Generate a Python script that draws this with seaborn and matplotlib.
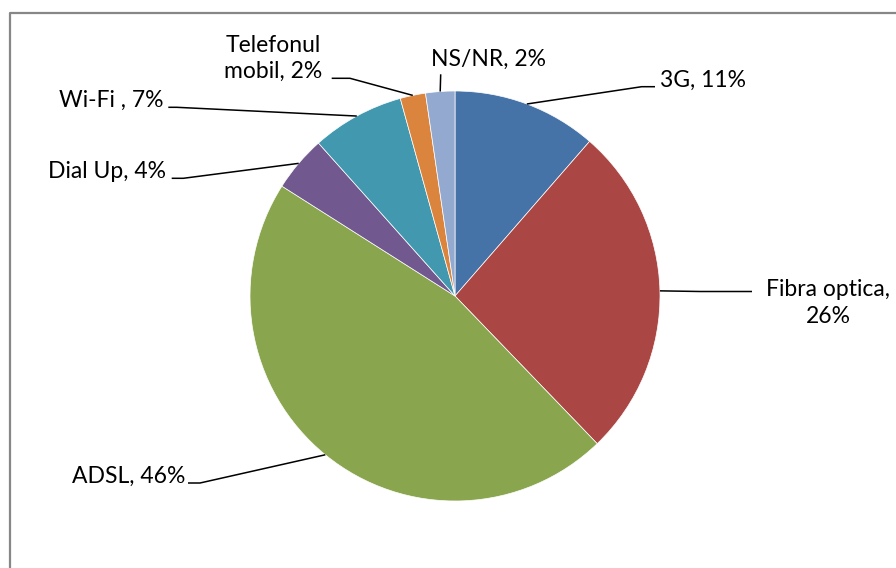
import numpy as np
import matplotlib
matplotlib.use("Agg")
import matplotlib.pyplot as plt
import seaborn as sns
from matplotlib.lines import Line2D

# data (percent of respondents)
categories = ['3G', 'Fibra optica', 'ADSL', 'Dial Up', 'Wi-Fi ', 'Telefonul mobil', 'NS/NR']
shares = [11.4, 26.4, 46.2, 4.4, 7.3, 2.0, 2.3]
colors = ['#4572A7', '#AA4643', '#89A54E', '#71588F', '#4198AF', '#DB843D', '#93A9CF']

# how each label is written (name / percent split)
label_fmt = ['{n}, {p}%', '{n},\n{p}%', '{n}, {p}%', '{n}, {p}%', '{n}, {p}%',
             'Telefonul\nmobil, {p}%', '{n}, {p}%']

sns.set_theme(style='white')
plt.rcParams['font.family'] = ['Lato', 'DejaVu Sans']

W, H = 896, 568
CX, CY, R = 455, 296, 205


def px(x, y):
    # pixel position in the picture -> data units of the pie axes
    return (x - CX) / R, (CY - y) / R


# label layout in pixels: elbow of leader, end of leader, text anchor (last line baseline), alignment
layout = [
    ((641.7, 86.7), (655, 86.7), (660, 86.7), 'left'),
    ((700, 291.5), (752, 291.5), (828, 322.5), 'center'),
    ((200, 483), (188, 483), (185, 483), 'right'),
    ((183.3, 178.3), (171.7, 178.3), (166, 178.3), 'right'),
    ((176.7, 107.3), (168.3, 107.3), (163.5, 107.3), 'right'),
    ((350, 78.3), (331.7, 78.3), (273, 78.3), 'center'),
    ((440.7, 74.3), (440.7, 74.3), (488, 66), 'center'),
]

fig = plt.figure(figsize=(W / 100, H / 100), dpi=100)
ax = fig.add_axes([0, 0, 1, 1])

pal = sns.color_palette(colors)
wedges, _ = ax.pie(shares, colors=pal, startangle=90, counterclock=False,
                   radius=1, center=(0, 0),
                   wedgeprops=dict(edgecolor='white', linewidth=0.5))

for w, cat, val, fmt, (elbow, end, tpos, ha) in zip(wedges, categories, shares, label_fmt, layout):
    mid = np.deg2rad((w.theta1 + w.theta2) / 2)
    x0, y0 = np.cos(mid), np.sin(mid)
    ex, ey = px(*elbow)
    nx, ny = px(*end)
    ax.plot([x0, ex, nx], [y0, ey, ny], color='black', lw=1.1, solid_capstyle='butt')
    tx, ty = px(*tpos)
    ax.text(tx, ty, fmt.format(n=cat, p=int(round(val))), ha=ha, va='baseline',
            fontsize=16.5, color='black', linespacing=1.3, multialignment='center')

ax.set_xlim(-CX / R, (W - CX) / R)
ax.set_ylim((CY - H) / R, CY / R)
ax.set_aspect('equal')
ax.axis('off')

# chart frame, only left and top edges fall inside the picture
fx, fy = 9.5 / W, 1 - 12.5 / H
fig.add_artist(Line2D([fx, fx, 1.0], [0.0, fy, fy], transform=fig.transFigure,
                      color='#878787', lw=1.6))

fig.savefig('out.png', dpi=100, facecolor='white')
